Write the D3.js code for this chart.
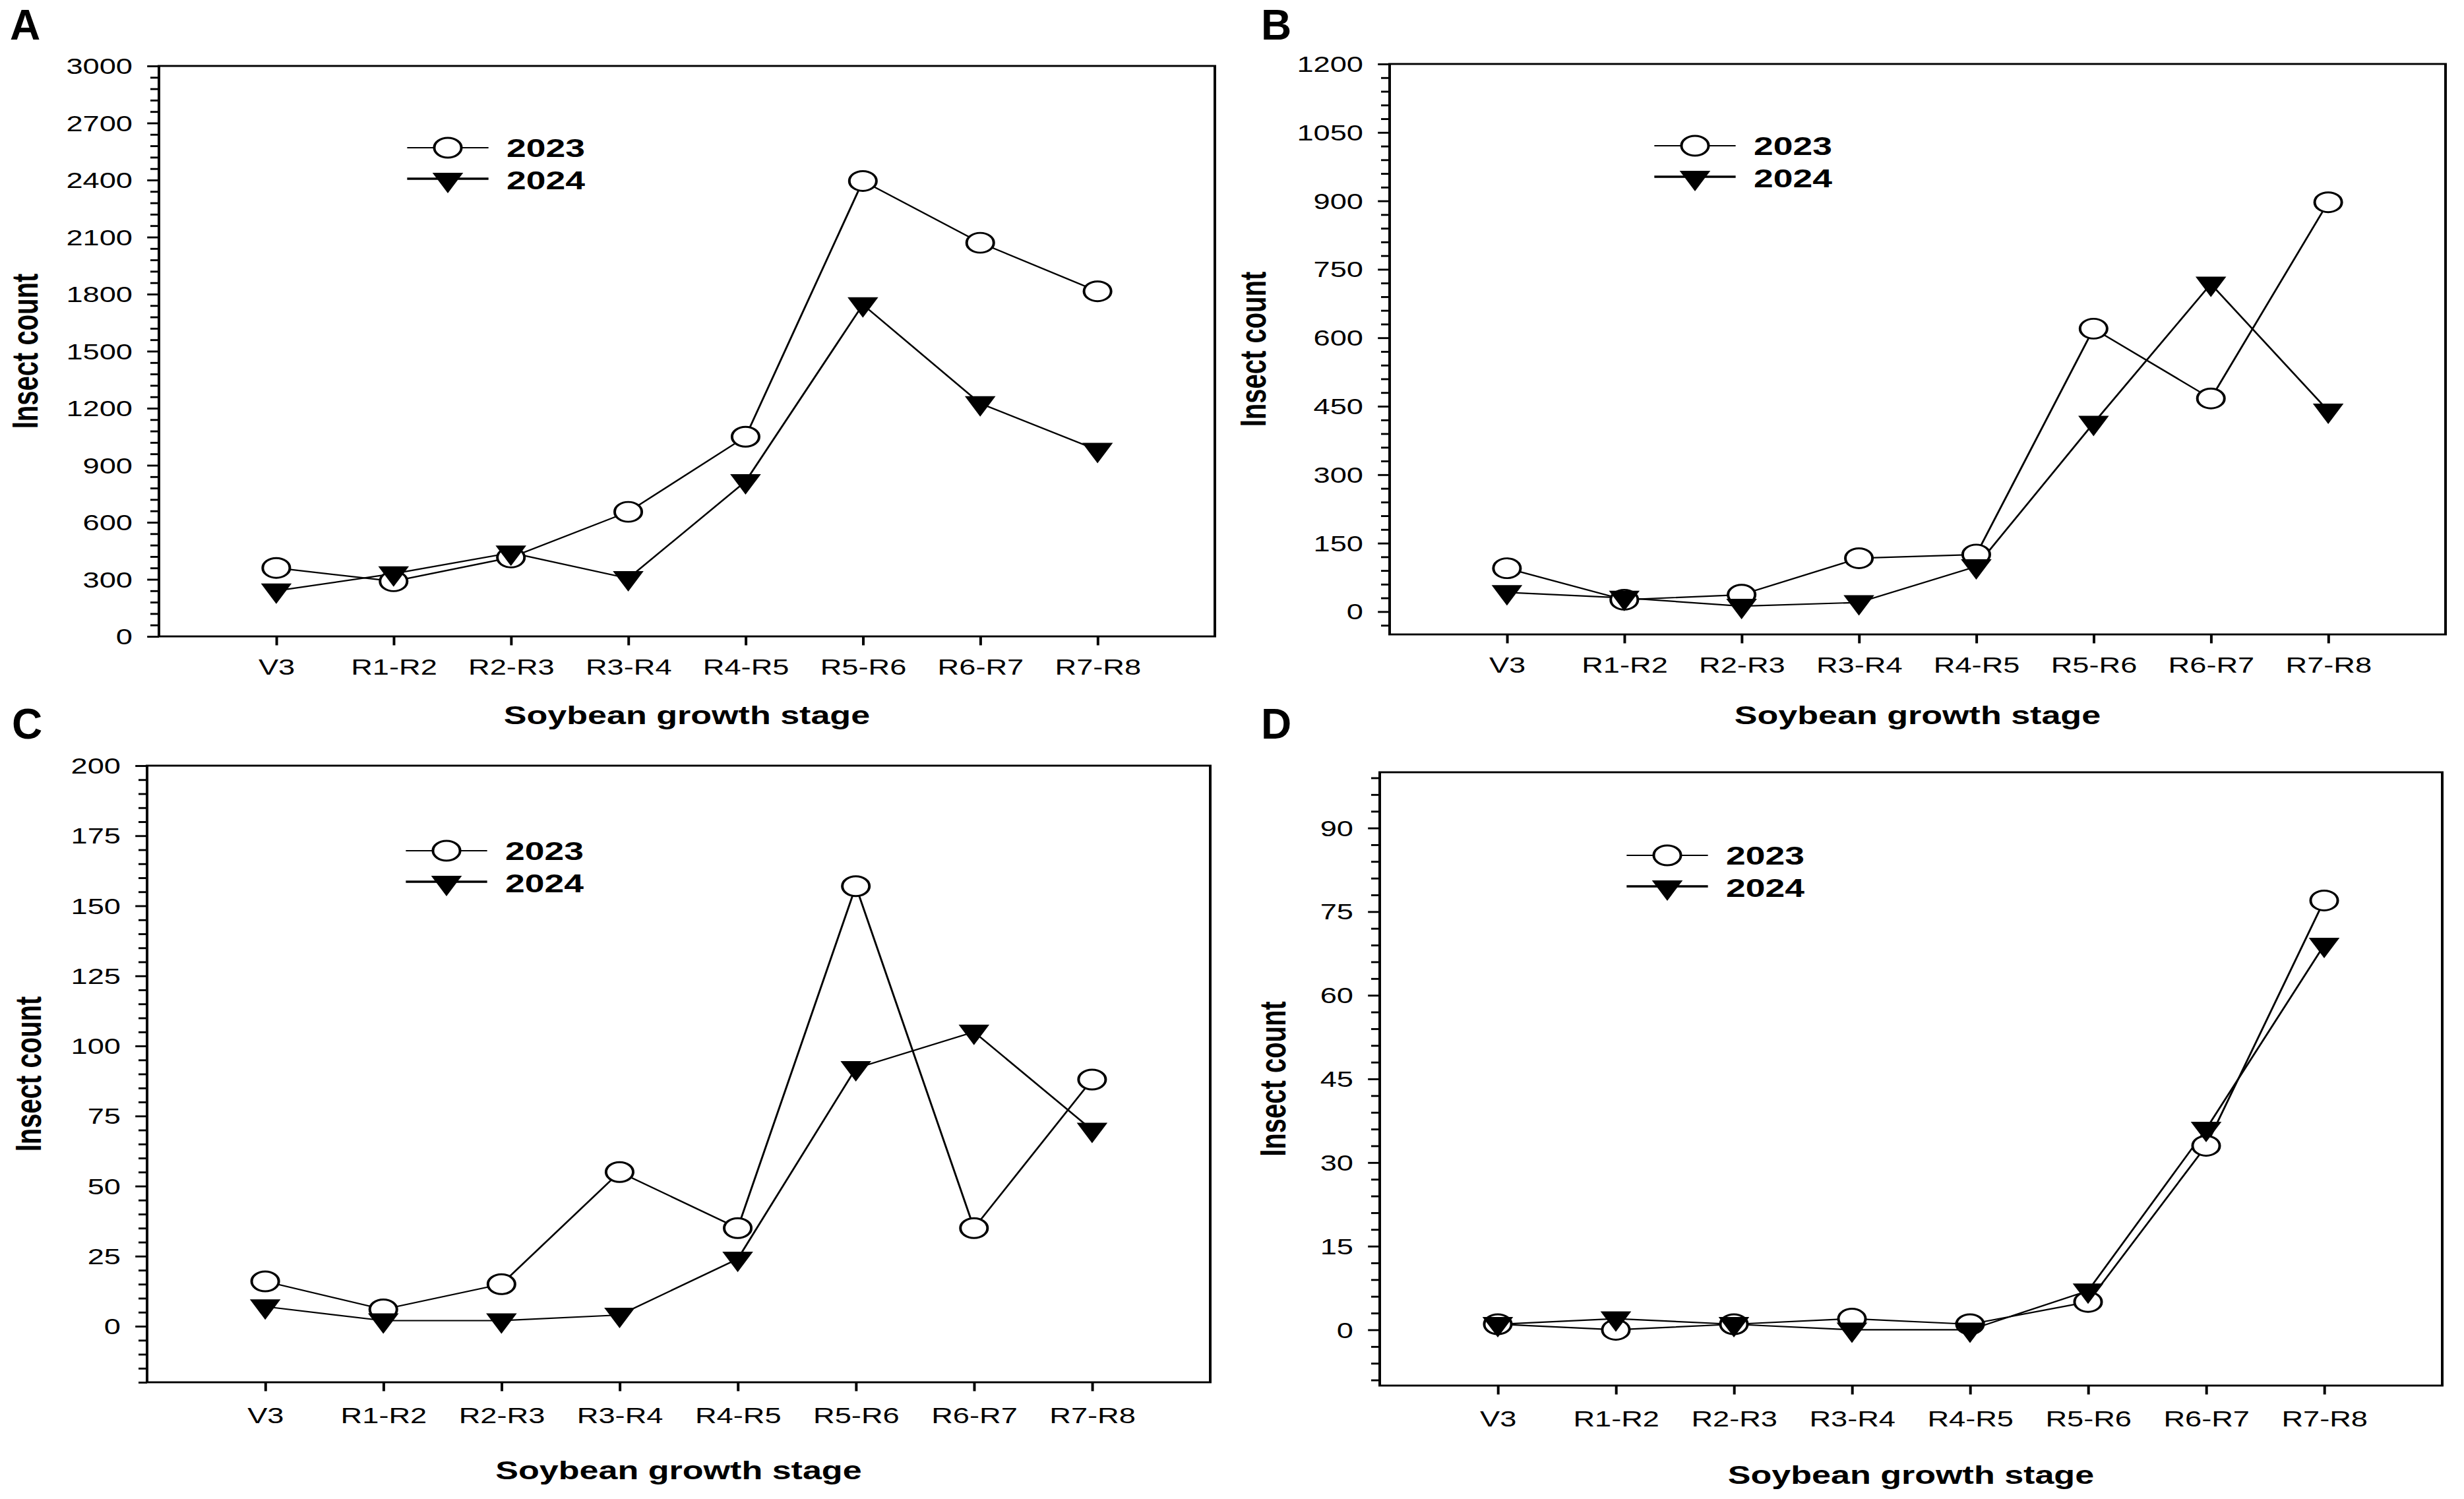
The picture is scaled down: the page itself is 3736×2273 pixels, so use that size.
<!DOCTYPE html>
<html lang="en">
<head>
<meta charset="utf-8">
<title>Insect count by soybean growth stage</title>
<script src="https://cdn.jsdelivr.net/npm/d3@7"></script>
<style>
body { margin: 0; background: #fff; }
text { font-family: "Liberation Sans", Arial, Helvetica, sans-serif; fill: #000; }
.frame { fill: none; stroke: #000; stroke-width: 2.9px; }
.tick line { stroke: #000; stroke-width: 2.9px; }
.series { fill: none; stroke: #000; stroke-width: 2.2px; stroke-linejoin: round; }
</style>
</head>
<body>
<div id="fig"></div>
<script>
var stages = ["V3", "R1-R2", "R2-R3", "R3-R4", "R4-R5", "R5-R6", "R6-R7", "R7-R8"];
var years = ["2023", "2024"];

var a2023 = [360, 290, 415, 655, 1050, 2395, 2070, 1815];
var a2024 = [240, 330, 440, 305, 815, 1745, 1225, 980];
var b2023 = [95, 26, 37, 117, 125, 620, 467, 897];
var b2024 = [42, 30, 12, 20, 99, 413, 718, 440];
var c2023 = [16, 6, 15, 55, 35, 157, 35, 88];
var c2024 = [7, 2, 2, 4, 24, 92, 105, 70];
var d2023 = [1, 0, 1, 2, 1, 5, 33, 77];
var d2024 = [1, 2, 1, 0, 0, 7, 36, 69];

var aTicks = [0, 300, 600, 900, 1200, 1500, 1800, 2100, 2400, 2700, 3000];
var bTicks = [0, 150, 300, 450, 600, 750, 900, 1050, 1200];
var cTicks = [0, 25, 50, 75, 100, 125, 150, 175, 200];
var dTicks = [0, 15, 30, 45, 60, 75, 90];

var xTitle = "Soybean growth stage";
var yTitle = "Insect count";

// the whole figure is stretched sideways, letters excepted
var SX = 1.37;
var width = 3736, height = 2273;

var panels = [
  {letter: "A", s1: a2023, s2: a2024, ticks: aTicks, dom: [0, 3000], minor: 60,
   x0: 241, x1: 1842, y0: 100, y1: 965, lx: 15, ly: 60, titleX: 38, titleY: 1085, labGap: 46, leg: [679, 224]},
  {letter: "B", s1: b2023, s2: b2024, ticks: bTicks, dom: [-50, 1200], minor: 30,
   x0: 2107, x1: 3708, y0: 97, y1: 962, lx: 1912, ly: 60, titleX: 1900, titleY: 1085, labGap: 46, leg: [2570, 221]},
  {letter: "C", s1: c2023, s2: c2024, ticks: cTicks, dom: [-20, 200], minor: 5,
   x0: 223, x1: 1835, y0: 1161, y1: 2096, lx: 18, ly: 1120, titleX: 43, titleY: 2230, labGap: 50, leg: [677, 1290]},
  {letter: "D", s1: d2023, s2: d2024, ticks: dTicks, dom: [-10, 100], minor: 3,
   x0: 2092, x1: 3703, y0: 1171, y1: 2101, lx: 1912, ly: 1120, titleX: 1930, titleY: 2237, labGap: 50, leg: [2528, 1297]}
];

var svg = d3.select("#fig").append("svg")
    .attr("width", width)
    .attr("height", height);

svg.append("rect").attr("width", width).attr("height", height).attr("fill", "#fff");

var tri = "M-17,-11L17,-11L0,20Z";

panels.forEach(function(p) {
  var w = (p.x1 - p.x0) / SX, h = p.y1 - p.y0;
  var x = d3.scalePoint().domain(stages).range([0, w]).padding(1);
  var y = d3.scaleLinear().domain(p.dom).range([h, 0]);

  svg.append("text")
      .attr("x", p.lx).attr("y", p.ly)
      .attr("font-size", 64).attr("font-weight", "bold")
      .text(p.letter);

  var g = svg.append("g")
      .attr("transform", "translate(" + p.x0 + "," + p.y0 + ") scale(" + SX + ",1)");

  var step = p.ticks[1] - p.ticks[0];
  var minors = d3.range(Math.ceil(p.dom[0] / p.minor) * p.minor, p.dom[1] + 0.001, p.minor)
      .filter(function(v) { return v % step !== 0; });

  g.append("g")
      .call(d3.axisLeft(y).tickValues(minors).tickSize(9.5).tickFormat(""))
      .call(function(a) { a.select(".domain").remove(); });

  g.append("g")
      .call(d3.axisLeft(y).tickValues(p.ticks).tickSize(13).tickFormat(d3.format("d")))
      .call(function(a) {
        a.select(".domain").remove();
        a.selectAll("text")
            .attr("x", -29.2).attr("dy", "0.35em")
            .attr("font-size", 33).attr("font-family", null).attr("fill", "#111");
      });

  g.append("g")
      .attr("transform", "translate(0," + h + ")")
      .call(d3.axisBottom(x).tickSize(13.5))
      .call(function(a) {
        a.select(".domain").remove();
        a.selectAll("line").attr("stroke-width", 2.4);
        a.selectAll("text")
            .attr("y", p.labGap).attr("dy", "0.35em")
            .attr("font-size", 33).attr("font-family", null).attr("fill", "#111");
      });

  g.append("rect").attr("class", "frame")
      .attr("width", w).attr("height", h);

  var line = d3.line()
      .x(function(d, i) { return x(stages[i]); })
      .y(function(d) { return y(d); });

  g.append("path").datum(p.s1).attr("class", "series").attr("d", line);
  g.append("path").datum(p.s2).attr("class", "series").attr("d", line);

  g.selectAll("circle.m23")
      .data(p.s1)
      .enter().append("circle")
      .attr("class", "m23")
      .attr("cx", function(d, i) { return x(stages[i]); })
      .attr("cy", function(d) { return y(d); })
      .attr("r", 15)
      .attr("fill", "#fff").attr("stroke", "#000").attr("stroke-width", 2.9);

  g.selectAll("path.m24")
      .data(p.s2)
      .enter().append("path")
      .attr("class", "m24")
      .attr("d", tri)
      .attr("transform", function(d, i) { return "translate(" + x(stages[i]) + "," + y(d) + ")"; })
      .attr("fill", "#000");

  // legend
  var lx = (p.leg[0] - p.x0) / SX, ly = p.leg[1] - p.y0;
  var leg = g.append("g").attr("transform", "translate(" + lx + "," + ly + ")");
  leg.append("line").attr("x1", -45).attr("x2", 45).attr("y1", 0).attr("y2", 0)
      .attr("stroke", "#000").attr("stroke-width", 2.2);
  leg.append("circle").attr("r", 15)
      .attr("fill", "#fff").attr("stroke", "#000").attr("stroke-width", 2.9);
  leg.append("line").attr("x1", -45).attr("x2", 45).attr("y1", 47).attr("y2", 47)
      .attr("stroke", "#000").attr("stroke-width", 3.6);
  leg.append("path").attr("d", tri).attr("transform", "translate(0,49)").attr("fill", "#000");
  leg.selectAll("text.yr")
      .data(years)
      .enter().append("text")
      .attr("class", "yr")
      .attr("x", 65)
      .attr("y", function(d, i) { return 14 + i * 49; })
      .attr("font-size", 39).attr("font-weight", "bold")
      .text(function(d) { return d; });

  g.append("text")
      .attr("x", w / 2).attr("y", p.titleY - p.y0).attr("dy", "0.35em")
      .attr("text-anchor", "middle")
      .attr("font-size", 38).attr("font-weight", "bold")
      .text(xTitle);

  g.append("text")
      .attr("transform", "translate(" + ((p.titleX - p.x0) / SX) + "," + (h / 2) + ") rotate(-90)")
      .attr("dy", "0.35em")
      .attr("text-anchor", "middle")
      .attr("font-size", 40).attr("font-weight", "bold")
      .text(yTitle);
});
</script>
</body>
</html>
